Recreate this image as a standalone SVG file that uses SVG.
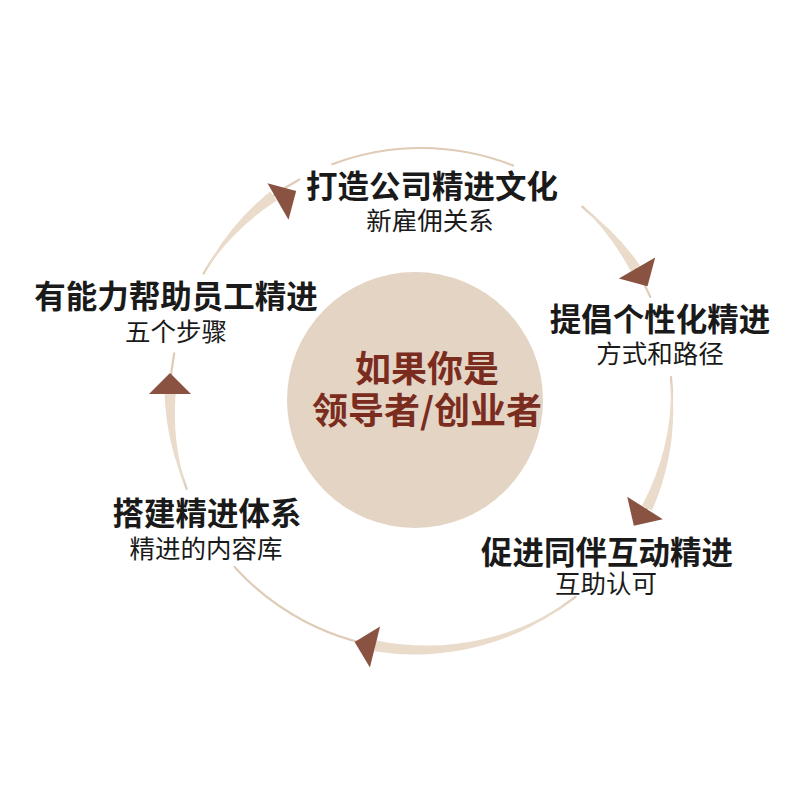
<svg xmlns="http://www.w3.org/2000/svg" width="800" height="800" viewBox="0 0 800 800">
<style>
.t{font-family:"Noto Sans CJK SC","Noto Sans",sans-serif;font-size:31.5px;font-weight:700;fill:#1a1a1a;text-anchor:middle}
.s{font-family:"Noto Sans CJK SC","Noto Sans",sans-serif;font-size:25.5px;font-weight:400;fill:#1a1a1a;text-anchor:middle}
.c{font-family:"Noto Sans CJK SC","Noto Sans",sans-serif;font-size:36px;font-weight:700;fill:#7a2c1f;text-anchor:middle}
.ring{fill:none;stroke:#dfcbb6;stroke-width:2.2;stroke-linecap:round}
.tail{fill:#eadbcb}
.head{fill:#8a5241}
</style>
<defs>
<polygon id="ah" points="0,-21 0,21 21,0"/>
</defs>
<rect width="800" height="800" fill="#ffffff"/>
<g id="connectors">
<path class="ring" d="M332.3,164.2 A251,251 0 0 1 513.0,165.5"/>
<path class="ring" d="M582.3,206.7 A251,251 0 0 1 650.3,296.9"/>
<path class="ring" d="M671.0,377.1 A251,251 0 0 1 642.6,516.8"/>
<path class="ring" d="M575.5,596.8 A251,251 0 0 1 234.5,566.9"/>
<path class="ring" d="M186.7,489.0 A251,251 0 0 1 174.2,353.3"/>
<path class="ring" d="M203.6,273.5 A251,251 0 0 1 299.3,179.5"/>
<path class="tail" d="M582.3,206.7 A251,251 0 0 1 640.2,265.7 L630.8,271.5 A251,251 0 0 0 582.3,206.7 Z"/>
<path class="tail" d="M671.0,377.1 A251,251 0 0 1 651.9,510.6 L642.0,505.8 A251,251 0 0 0 671.0,377.1 Z"/>
<path class="tail" d="M575.5,596.8 A251,251 0 0 1 374.3,651.2 L376.3,640.4 A251,251 0 0 0 575.5,596.8 Z"/>
<path class="tail" d="M186.7,489.0 A251,251 0 0 1 164.6,393.2 L175.6,393.4 A251,251 0 0 0 186.7,489.0 Z"/>
<path class="tail" d="M203.6,273.5 A251,251 0 0 1 270.2,191.5 L276.7,200.4 A251,251 0 0 0 203.6,273.5 Z"/>
<use href="#ah" class="head" transform="translate(637,268) rotate(60)"/>
<use href="#ah" class="head" transform="translate(645,508) rotate(122)"/>
<use href="#ah" class="head" transform="translate(375,647) rotate(194)"/>
<use href="#ah" class="head" transform="translate(170,394) rotate(270)"/>
<use href="#ah" class="head" transform="translate(278,201.5) rotate(330)"/>
</g>
<g id="center">
<circle cx="415" cy="400" r="128" fill="#e4d4c4"/>
<text class="c" x="427" y="382">如果你是</text>
<text class="c" x="427" y="424">领导者/创业者</text>
</g>
<g id="node-culture">
<text class="t" x="432" y="198">打造公司精进文化</text>
<text class="s" x="430" y="230">新雇佣关系</text>
</g>
<g id="node-personal">
<text class="t" x="660" y="331">提倡个性化精进</text>
<text class="s" x="660" y="363">方式和路径</text>
</g>
<g id="node-peer">
<text class="t" x="607" y="564">促进同伴互动精进</text>
<text class="s" x="606" y="593">互助认可</text>
</g>
<g id="node-system">
<text class="t" x="207" y="525">搭建精进体系</text>
<text class="s" x="206" y="558">精进的内容库</text>
</g>
<g id="node-steps">
<text class="t" x="176" y="308">有能力帮助员工精进</text>
<text class="s" x="176" y="341">五个步骤</text>
</g>
</svg>
